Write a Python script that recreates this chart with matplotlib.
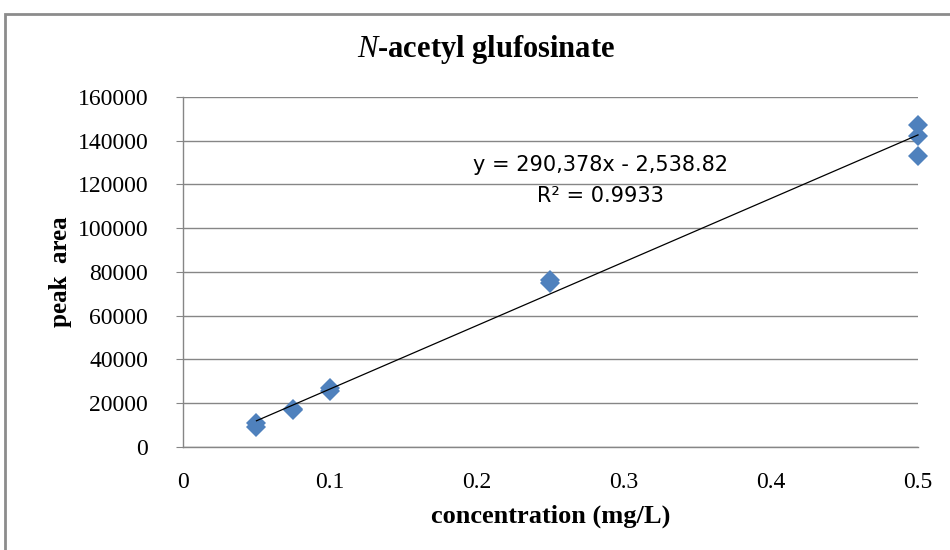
import matplotlib
matplotlib.use("Agg")
import matplotlib.pyplot as plt
from matplotlib.patches import Rectangle

# concentration (mg/L) and peak area
conc = [0.05, 0.05, 0.075, 0.075, 0.1, 0.1, 0.25, 0.25, 0.5, 0.5, 0.5]
area = [11000, 9000, 17000, 17500, 25500, 27000, 75000, 76500, 147000, 142000, 133000]

# trendline as printed on the chart
slope = 290378
intercept = -2538.82
r2 = 0.9933

x_ticks = [0, 0.1, 0.2, 0.3, 0.4, 0.5]
y_ticks = [0, 20000, 40000, 60000, 80000, 100000, 120000, 140000, 160000]

plt.rcParams["mathtext.fontset"] = "custom"
plt.rcParams["mathtext.it"] = "Liberation Serif:italic"
plt.rcParams["mathtext.rm"] = "Liberation Serif"

fig = plt.figure(figsize=(9.5, 5.5), dpi=100)
ax = fig.add_axes([0.1926, 0.1873, 0.7737, 0.6364])

# outer chart border (only left and top visible)
fig.patches.append(Rectangle((5 / 950, -0.1), 1.2, 1 - 14 / 550 + 0.1,
                             transform=fig.transFigure, fill=False,
                             edgecolor="#8c8c8c", linewidth=2))

ax.plot(conc, area, linestyle="none", marker="D", markersize=10.5,
        color="#4F81BD", markeredgewidth=0, zorder=3, clip_on=False)

fit_x = [min(conc), max(conc)]
fit_y = [slope * v + intercept for v in fit_x]
ax.plot(fit_x, fit_y, color="black", linewidth=0.9, zorder=4, clip_on=False)

ax.set_xlim(0, 0.5)
ax.set_ylim(0, 160000)
ax.set_xticks(x_ticks)
ax.set_xticklabels([f"{v:g}" for v in x_ticks])
ax.set_yticks(y_ticks)
ax.set_yticklabels([str(v) for v in y_ticks])

for lab in ax.get_xticklabels() + ax.get_yticklabels():
    lab.set_family("Liberation Serif")
    lab.set_fontsize(17)
ax.tick_params(axis="y", length=5, color="#868686", pad=20)
ax.tick_params(axis="x", length=0, pad=18)

ax.grid(axis="y", color="#868686", linewidth=1)
ax.set_axisbelow(True)
for s in ["top", "right"]:
    ax.spines[s].set_visible(False)
for s in ["left", "bottom"]:
    ax.spines[s].set_color("#868686")
    ax.spines[s].set_linewidth(1)

ax.set_xlabel("concentration (mg/L)", family="Liberation Serif",
              fontweight="bold", fontsize=19, labelpad=8)
ax.set_ylabel("peak  area", family="Liberation Serif",
              fontweight="bold", fontsize=18, labelpad=4)
fig.text(486 / 950, 1 - 50 / 550, r"$\mathit{N}$-acetyl glufosinate",
         family="Liberation Serif", fontweight="bold", fontsize=22,
         ha="center", va="center")

ax.text(0.2837, 128900, "y = 290,378x - 2,538.82", family="DejaVu Sans",
        fontsize=15, ha="center", va="center")
ax.text(0.2837, 114700, "R\u00b2 = " + str(r2),
        family="DejaVu Sans", fontsize=15, ha="center", va="center")

fig.savefig("out.png", dpi=100)
plt.close(fig)
